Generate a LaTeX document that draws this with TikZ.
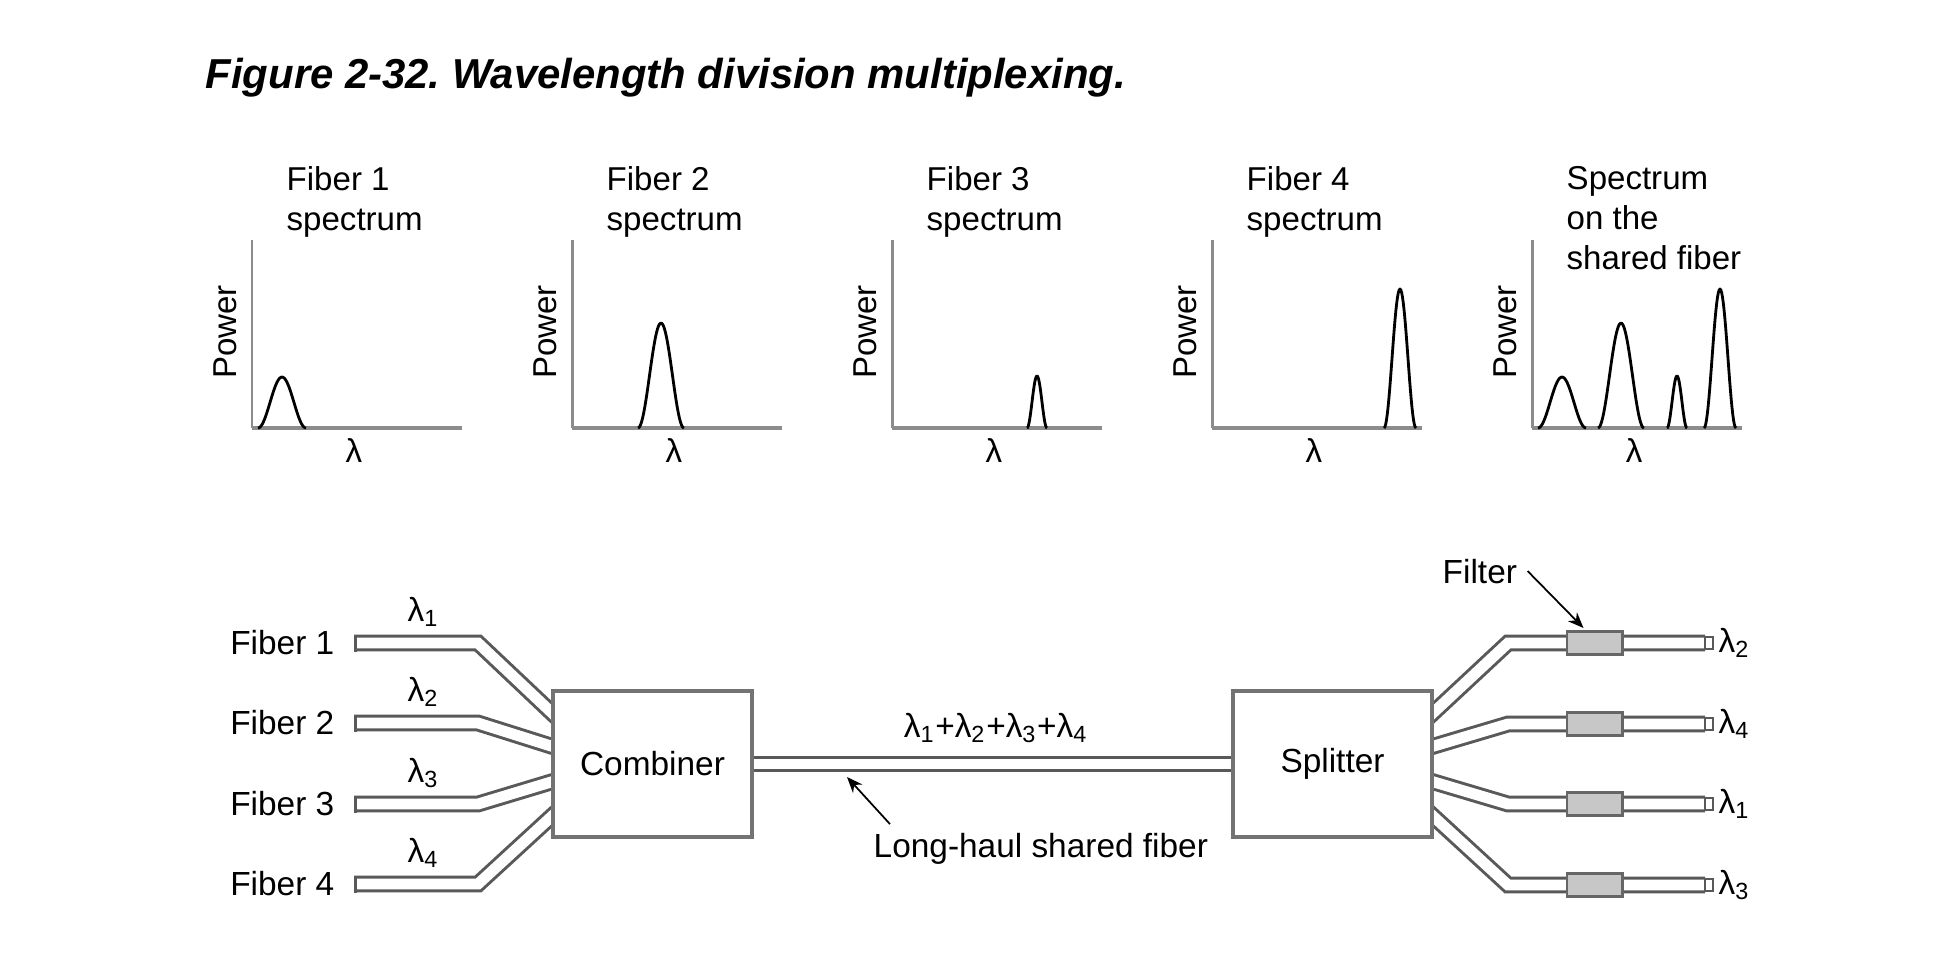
\documentclass[tikz,border=0pt]{standalone}
\usepackage{fontspec}
\setmainfont{Liberation Sans}
\usetikzlibrary{calc,arrows.meta}
\pgfdeclarelayer{bg}
\pgfsetlayers{bg,main}
\frenchspacing
\begin{document}
\begin{tikzpicture}[x=0.01cm, y=-0.01cm, >={Stealth[length=4.5pt,width=3.6pt]}, line cap=butt,
	txt/.style={inner sep=0pt, font=\fontsize{9.4}{11.4}\selectfont},
	lbl/.style={inner sep=0pt, font=\fontsize{9.5}{11.4}\selectfont},
	axis/.style={draw=black!45},
	peak/.style={draw=black, line width=0.8pt, line join=round},
	tube/.style={draw=black!65, line width=0.85pt, double=white, double distance=3.1pt},
	box/.style={draw=black!55, line width=1.1pt, fill=white, minimum width=1.99cm, minimum height=1.46cm, inner sep=0pt, font=\fontsize{9.5}{11.4}\selectfont},
	filterbox/.style={draw=black!60, line width=0.85pt, fill=black!22, minimum width=0.55cm, minimum height=0.23cm, inner sep=0pt},
	pointer/.style={draw=black, line width=0.5pt}]
	\useasboundingbox (0,0) rectangle (1948,956);
	\def\ybase{428} \def\ytop{240} \def\axlen{210}
	\node[anchor=base west, inner sep=0pt, font=\fontsize{11.9}{14}\selectfont\bfseries\itshape] (title) at (205,88) {Figure 2-32. Wavelength division multiplexing.};
	% spectra
	\foreach \xo/\ttl [count=\k] in {252/{Fiber 1\\spectrum}, 572/{Fiber 2\\spectrum}, 892/{Fiber 3\\spectrum}, 1212/{Fiber 4\\spectrum}, 1532/{Spectrum\\on the\\shared fiber}}{
		\draw[axis, line width=0.85pt] (\xo,\ytop) -- (\xo,\ybase);
		\draw[axis, line width=1.3pt] (\xo,\ybase) -- (\xo+\axlen,\ybase);
		\node[txt, align=left, anchor=north west] (ttl\k) at (\xo+34,166) {\ttl};
		\node[txt, rotate=90] (pw\k) at (\xo-27,332) {Power};
		\node[txt] (lx\k) at (\xo+102,450) {λ};
	}
	\foreach \xo/\pc/\pw/\ph in {252/30/24/51, 572/89/23/105, 892/145/10/52, 1212/188/16/139, 1532/30/24/51, 1532/89/23/105, 1532/145/10/52, 1532/188/16/139}
		\draw[peak] plot[domain=-\pw:\pw, samples=41] ({\xo+\pc+\x}, {\ybase-\ph*(0.5+0.5*cos(180*\x/\pw))});
	% combiner and splitter
	\node[box] (cmb) at (652.5,764) {Combiner};
	\node[box] (spl) at (1332.5,764) {Splitter};
	\begin{pgfonlayer}{bg}
		\draw[tube] (cmb.east) -- (spl.west);
	\end{pgfonlayer}
	\node[lbl, anchor=base] (sum) at (996,737) {λ\textsubscript{1}+λ\textsubscript{2}+λ\textsubscript{3}+λ\textsubscript{4}};
	\node[lbl, anchor=base west] (lhl) at (873,857) {Long-haul shared fiber};
	\coordinate (lhtip) at (847,777);
	\draw[->, pointer] ($(lhl.north west)+(17,-8)$) -- (lhtip);
	% input fibers
	\foreach \i/\yy/\dy in {1/643/-52, 2/723/-18, 3/804/18, 4/884/53}{
		\node[lbl, anchor=base east] (fib\i) at (335,\yy+11) {Fiber \i};
		\node[lbl, anchor=base west] (lin\i) at (407,\yy-22) {λ\textsubscript{\i}};
		\coordinate (fs\i) at (354,\yy);
		\coordinate (fb\i) at (478,\yy);
		\coordinate (fe\i) at ($(cmb.west)+(0,\dy)$);
		\begin{pgfonlayer}{bg}
			\draw[tube] (fs\i) -- (fb\i) -- ($(fb\i)!1.15!(fe\i)$);
		\end{pgfonlayer}
		\draw[draw=black!65, line width=0.85pt] ($(fs\i)+(1.5,-8.5)$) -- ($(fs\i)+(1.5,8.5)$);
	}
	% output fibers
	\foreach \i/\yy/\dy/\lm in {1/643/-52/2, 2/724/-18/4, 3/804/18/1, 4/885/53/3}{
		\coordinate (ss\i) at ($(spl.east)+(0,\dy)$);
		\coordinate (sb\i) at (1508,\yy);
		\coordinate (se\i) at (1705,\yy);
		\begin{pgfonlayer}{bg}
			\draw[tube] ($(sb\i)!1.15!(ss\i)$) -- (sb\i) -- (se\i);
		\end{pgfonlayer}
		\draw[draw=black!65, line width=0.7pt, fill=white] ($(se\i)+(0,-6)$) rectangle ($(se\i)+(8,6)$);
		\node[filterbox] (flt\i) at (1594.5,\yy) {};
		\node[lbl, anchor=base west] (lout\i) at (1718,\yy+9) {λ\textsubscript{\lm}};
	}
	\node[lbl, anchor=base west] (fltl) at (1442,583) {Filter};
	\draw[->, pointer] ($(fltl.east)+(10,0)$) -- ($(flt1.north)+(-11,-2)$);
\end{tikzpicture}
\end{document}
